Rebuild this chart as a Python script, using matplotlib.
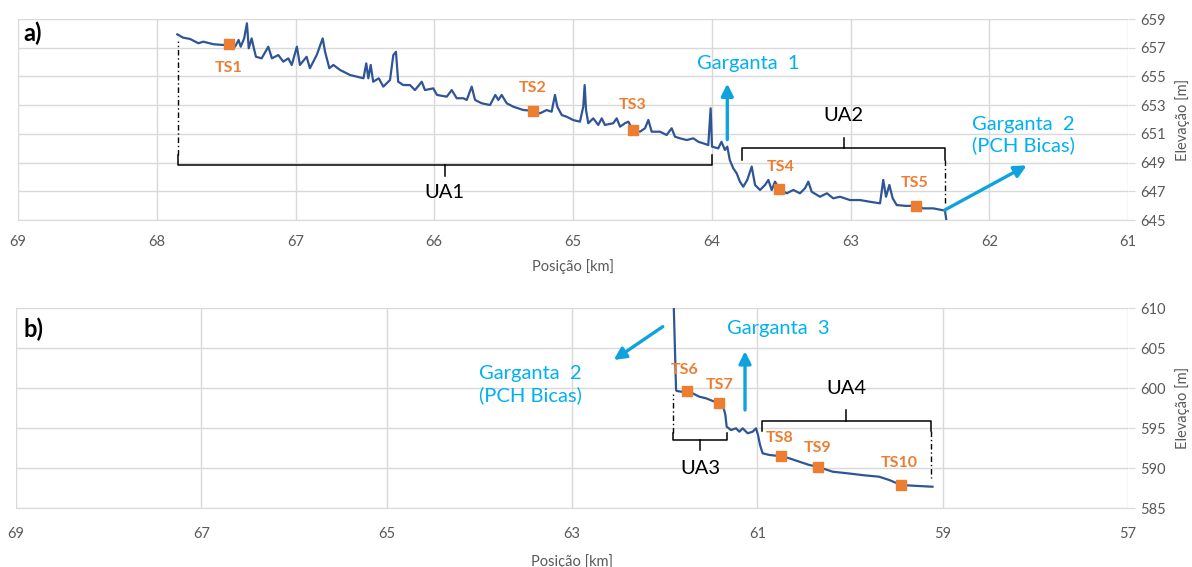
import matplotlib

matplotlib.use("Agg")
import matplotlib.pyplot as plt

plt.rcParams["font.family"] = ["Lato", "DejaVu Sans"]

# Perfil longitudinal - trecho a) (km, m)
km_a = [67.852, 67.81, 67.76, 67.70, 67.665, 67.59, 67.52, 67.48, 67.436, 67.41,
        67.395, 67.37, 67.35, 67.337, 67.316, 67.30, 67.285, 67.244, 67.196, 67.17,
        67.124, 67.088, 67.052, 67.027, 66.99, 66.968, 66.92, 66.896, 66.847, 66.804,
        66.787, 66.756, 66.727, 66.679, 66.607, 66.51, 66.49, 66.475, 66.458, 66.44,
        66.40, 66.367, 66.319, 66.295, 66.276, 66.26, 66.223, 66.175, 66.139, 66.09,
        66.067, 66.007, 65.98, 65.91, 65.874, 65.838, 65.79, 65.766, 65.73, 65.706,
        65.658, 65.598, 65.56, 65.538, 65.514, 65.478, 65.43, 65.358, 65.29, 65.238,
        65.19, 65.154, 65.13, 65.113, 65.081, 65.045, 64.998, 64.95, 64.926, 64.916,
        64.906, 64.89, 64.854, 64.818, 64.793, 64.77, 64.71, 64.685, 64.661, 64.625,
        64.601, 64.57, 64.517, 64.481, 64.457, 64.433, 64.373, 64.325, 64.289, 64.265,
        64.229, 64.18, 64.133, 64.097, 64.061, 64.025, 64.008, 63.998, 63.953, 63.93,
        63.905, 63.888, 63.87, 63.845, 63.82, 63.797, 63.773, 63.744, 63.712, 63.688,
        63.652, 63.616, 63.592, 63.568, 63.544, 63.513, 63.46, 63.412, 63.364, 63.328,
        63.304, 63.28, 63.22, 63.17, 63.124, 63.076, 63.004, 62.932, 62.86, 62.787,
        62.764, 62.744, 62.72, 62.696, 62.667, 62.595, 62.528, 62.475, 62.403, 62.319,
        62.302]
elev_a = [657.93, 657.70, 657.61, 657.31, 657.42, 657.24, 657.19, 657.24, 657.07, 657.54,
          657.07, 657.65, 658.70, 656.96, 657.65, 656.96, 656.37, 656.26, 657.07, 656.26,
          656.49, 656.03, 656.26, 655.80, 657.07, 655.80, 656.37, 655.57, 656.49, 657.65,
          656.72, 655.57, 655.80, 655.45, 655.10, 654.87, 655.91, 654.87, 655.80, 654.63,
          654.87, 654.29, 654.75, 656.49, 656.72, 654.63, 654.40, 654.40, 654.05, 654.63,
          654.05, 654.17, 653.71, 653.59, 654.05, 653.48, 653.48, 653.36, 654.29, 653.36,
          653.13, 653.01, 653.71, 653.36, 653.71, 653.13, 652.89, 652.66, 652.61, 652.43,
          652.66, 652.54, 653.71, 652.89, 652.31, 652.19, 651.96, 651.85, 652.89, 654.40,
          652.66, 651.74, 652.08, 651.62, 652.08, 651.62, 651.74, 652.08, 651.50, 651.74,
          651.85, 651.27, 651.15, 651.39, 651.97, 651.15, 651.15, 650.92, 651.39, 650.80,
          650.69, 650.57, 650.69, 650.45, 650.34, 650.22, 652.78, 650.11, 649.99, 650.45,
          649.88, 650.11, 649.18, 648.60, 648.25, 647.67, 647.32, 647.79, 648.72, 647.44,
          647.09, 647.44, 647.79, 647.09, 647.67, 647.16, 646.86, 647.09, 646.86, 647.21,
          647.67, 646.97, 646.62, 646.86, 646.51, 646.62, 646.39, 646.39, 646.27, 646.16,
          647.79, 646.62, 647.44, 646.51, 646.04, 645.98, 646.00, 645.81, 645.81, 645.65,
          644.50]

# Perfil longitudinal - trecho b)
km_b = [61.906, 61.877, 61.87, 61.823, 61.762, 61.697, 61.625, 61.553, 61.482, 61.41,
        61.367, 61.345, 61.331, 61.284, 61.23, 61.194, 61.158, 61.104, 61.05, 61.014,
        60.993, 60.971, 60.943, 60.871, 60.8, 60.744, 60.655, 60.547, 60.44, 60.35,
        60.188, 60.0, 59.857, 59.685, 59.577, 59.45, 59.326, 59.11]
elev_b = [612.0, 599.75, 599.63, 599.54, 599.66, 599.33, 598.91, 598.71, 598.38, 598.09,
          597.67, 596.63, 595.16, 594.75, 594.96, 594.54, 594.96, 594.34, 594.54, 594.96,
          594.13, 592.88, 591.84, 591.63, 591.54, 591.50, 591.21, 590.79, 590.38, 590.16,
          589.54, 589.30, 589.10, 588.91, 588.50, 587.88, 587.79, 587.66]

# Trechos de soleira (TS)
ts_names_a = ["TS1", "TS2", "TS3", "TS4", "TS5"]
ts_km_a = [67.48, 65.29, 64.57, 63.513, 62.528]
ts_elev_a = [657.24, 652.61, 651.27, 647.16, 646.00]
ts_label_km_a = [67.48, 65.29, 64.57, 63.505, 62.535]
ts_label_elev_a = [655.6, 654.2, 653.0, 648.7, 647.6]

ts_names_b = ["TS6", "TS7", "TS8", "TS9", "TS10"]
ts_km_b = [61.762, 61.41, 60.744, 60.35, 59.45]
ts_elev_b = [599.66, 598.09, 591.50, 590.16, 587.88]
ts_label_km_b = [61.78, 61.41, 60.76, 60.35, 59.47]
ts_label_elev_b = [602.3, 600.4, 593.7, 592.5, 590.6]

# Unidades de análise (UA): início, fim, cota da chave, posição do rótulo
ua_names = ["UA1", "UA2", "UA3", "UA4"]
ua_start = [67.85, 63.78, 61.906, 60.954]
ua_end = [64.0, 62.32, 61.33, 59.13]
ua_level = [648.83, 650.0, 593.5, 595.9]
ua_label_elev = [646.95, 652.3, 589.9, 599.9]
ua_guide_elev = [657.5, 646.2, 599.3, 588.7]

# Gargantas: origem e ponta das setas, posição do texto
garg_names = ["Garganta  1", "Garganta  2\n(PCH Bicas)", "Garganta  3", "Garganta  2\n(PCH Bicas)"]
garg_from = [(63.888, 650.6), (62.32, 645.7), (61.133, 597.25), (62.02, 607.67)]
garg_to = [(63.888, 654.5), (61.73, 648.8), (61.133, 604.6), (62.55, 603.5)]
garg_text = [(63.74, 655.9), (61.757, 650.9), (60.77, 607.5), (63.45, 600.4)]

LINE = "#2F5597"
ORANGE = "#ED7D31"
CYAN = "#00B0F0"
ARROW = "#0FA3DE"
GRID = "#D9D9D9"
TICK = "#595959"


def style_axes(ax, xlim, xticks, ylim, yticks, xpad, xlabelpad):
    ax.set_xlim(*xlim)
    ax.set_ylim(*ylim)
    ax.set_xticks(xticks)
    ax.set_yticks(yticks)
    ax.yaxis.tick_right()
    ax.yaxis.set_label_position("right")
    ax.grid(True, color=GRID, linewidth=1.0)
    ax.set_axisbelow(True)
    for side, spine in ax.spines.items():
        spine.set_visible(side == "bottom")
        spine.set_color(GRID)
    ax.tick_params(axis="x", length=0, pad=xpad, labelsize=10.5, labelcolor=TICK)
    ax.tick_params(axis="y", length=5, color=GRID, pad=4, labelsize=10.5, labelcolor=TICK)
    ax.set_xlabel("Posição [km]", fontsize=10.5, color=TICK, labelpad=xlabelpad)
    ax.set_ylabel("Elevação [m]", fontsize=10.5, color=TICK, labelpad=6)


def draw_brace(ax, x0, x1, y, hook, tick, guide_at, guide_to):
    # chave horizontal com ganchos nas pontas e dente no meio
    ax.plot([x0, x0, x1, x1], [y + hook, y, y, y + hook], color="black", lw=1.1,
            solid_joinstyle="round")
    xm = (x0 + x1) / 2.0
    ax.plot([xm, xm], [y, y - tick], color="black", lw=1.1)
    gx = x0 if guide_at == "start" else x1
    ax.plot([gx, gx], [y + hook, guide_to], color="black", lw=1.0, linestyle=(0, (4, 2, 1, 2)))


def draw_profile(ax, km, elev, names, mk, me, lk, le):
    ax.plot(km, elev, color=LINE, lw=1.6, zorder=3)
    ax.plot(mk, me, linestyle="none", marker="s", markersize=7, color=ORANGE, zorder=4)
    for name, x, y in zip(names, lk, le):
        ax.text(x, y, name, color=ORANGE, fontsize=11.5, fontweight="bold",
                ha="center", va="center", zorder=5)


def draw_arrow(ax, start, end, text, text_pos):
    ax.annotate("", xy=end, xytext=start,
                arrowprops=dict(arrowstyle="-|>", color=ARROW, lw=2.4, mutation_scale=18,
                                shrinkA=0, shrinkB=0), zorder=6)
    ax.text(text_pos[0], text_pos[1], text, color=CYAN, fontsize=14.5, ha="center",
            va="center", linespacing=1.25, zorder=6)


fig = plt.figure(figsize=(11.92, 5.67), dpi=100)
ax_a = fig.add_axes([18 / 1192, 1 - 220 / 567, 1110 / 1192, 201 / 567])
ax_b = fig.add_axes([16 / 1192, 1 - 508 / 567, 1112 / 1192, 200 / 567])

style_axes(ax_a, (69, 61), list(range(69, 60, -1)), (645, 659), list(range(645, 660, 2)), 11, 7)
style_axes(ax_b, (69, 57), list(range(69, 56, -2)), (585, 610), list(range(585, 611, 5)), 14, 9)

draw_profile(ax_a, km_a, elev_a, ts_names_a, ts_km_a, ts_elev_a, ts_label_km_a, ts_label_elev_a)
draw_profile(ax_b, km_b, elev_b, ts_names_b, ts_km_b, ts_elev_b, ts_label_km_b, ts_label_elev_b)

# chaves das unidades de análise
brace_axes = [ax_a, ax_a, ax_b, ax_b]
brace_hook = [0.7, -0.8, 0.9, -1.3]
brace_tick = [0.8, -0.7, 1.2, -1.35]
brace_guide = ["start", "end", "start", "end"]
for i, ax in enumerate(brace_axes):
    draw_brace(ax, ua_start[i], ua_end[i], ua_level[i], brace_hook[i], brace_tick[i],
               brace_guide[i], ua_guide_elev[i])
    ax.text((ua_start[i] + ua_end[i]) / 2.0, ua_label_elev[i], ua_names[i], fontsize=14.5,
            ha="center", va="center", color="black")

arrow_axes = [ax_a, ax_a, ax_b, ax_b]
for i, ax in enumerate(arrow_axes):
    draw_arrow(ax, garg_from[i], garg_to[i], garg_names[i], garg_text[i])

ax_a.text(0.005, 0.985, "a)", transform=ax_a.transAxes, fontsize=17, fontweight="bold",
          ha="left", va="top")
ax_b.text(0.007, 0.95, "b)", transform=ax_b.transAxes, fontsize=17, fontweight="bold",
          ha="left", va="top")

fig.savefig("out.png", dpi=100)
